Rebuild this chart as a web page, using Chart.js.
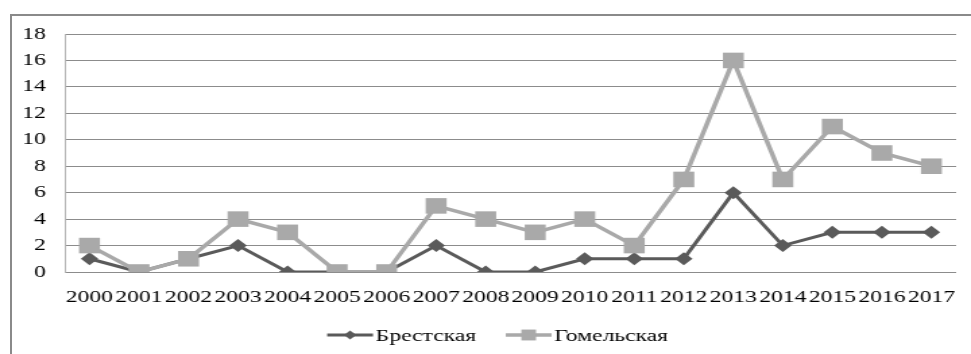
<!DOCTYPE html>
<html>
<head>
<meta charset="utf-8">
<script src="https://cdn.jsdelivr.net/npm/chart.js@4/dist/chart.umd.min.js"></script>
<style>
  html, body { margin: 0; padding: 0; background: #fff; overflow: hidden; }
  #wrap { position: relative; width: 971px; height: 354px; }
  #frame { position: absolute; left: 10px; top: 14px; right: -4px; bottom: -4px;
           border-left: 2px solid #8a8a8a; border-top: 2px solid #8a8a8a; }
  /* the chart is laid out narrow and widened, which gives the wide serif type */
  #stage { position: absolute; left: 0; top: 0; width: 720px; height: 354px;
           transform: scaleX(1.3486); transform-origin: 0 0; }
  canvas { display: block; }
</style>
</head>
<body>
<div id="wrap">
  <div id="frame"></div>
  <div id="stage"><canvas id="c" width="720" height="354"></canvas></div>
</div>
<script>
const years = ['2000','2001','2002','2003','2004','2005','2006','2007','2008',
               '2009','2010','2011','2012','2013','2014','2015','2016','2017'];
const brestValues = [1, 0, 1, 2, 0, 0, 0, 2, 0, 0, 1, 1, 1, 6, 2, 3, 3, 3];
const gomelValues = [2, 0, 1, 4, 3, 0, 0, 5, 4, 3, 4, 2, 7, 16, 7, 11, 9, 8];
const seriesNames = ['Брестская', 'Гомельская'];
const yTicks = { min: 0, max: 18, step: 2 };

const FONT_FAMILY = '"Liberation Serif", "Times New Roman", serif';
const FONT_SIZE = 17.5;
const GRID = '#8c8c8c';

// Legend drawn as line + marker, centred under the plot
const lineLegend = {
  id: 'lineLegend',
  afterDraw(chart) {
    const ctx = chart.ctx;
    const y = 335;
    const lineLen = 34, textGap = 2, itemGap = 22, centre = 369;
    ctx.save();
    ctx.font = FONT_SIZE + 'px ' + FONT_FAMILY;
    const items = chart.data.datasets.map(ds => ({ ds, w: ctx.measureText(ds.label).width }));
    const total = items.reduce((s, it) => s + lineLen + textGap + it.w, 0) + itemGap * (items.length - 1);
    let x = centre - total / 2;
    items.forEach(({ ds, w }) => {
      ctx.strokeStyle = ds.borderColor;
      ctx.lineWidth = ds.borderWidth;
      ctx.beginPath();
      ctx.moveTo(x, y);
      ctx.lineTo(x + lineLen, y);
      ctx.stroke();
      ctx.fillStyle = ds.pointBackgroundColor;
      ctx.strokeStyle = ds.pointBackgroundColor;
      Chart.helpers.drawPoint(ctx, {
        pointStyle: ds.pointStyle,
        radius: ds.pointRadius * 0.7,
        rotation: 0,
        borderWidth: 0
      }, x + lineLen / 2, y);
      ctx.fillStyle = '#000';
      ctx.textBaseline = 'middle';
      ctx.textAlign = 'left';
      ctx.fillText(ds.label, x + lineLen + textGap, y + 1);
      x += lineLen + textGap + w + itemGap;
    });
    ctx.restore();
  }
};

new Chart(document.getElementById('c'), {
  type: 'line',
  data: {
    labels: years,
    datasets: [
      {
        label: seriesNames[0],
        data: brestValues,
        borderColor: '#5a5a5a',
        backgroundColor: '#5a5a5a',
        pointBackgroundColor: '#5a5a5a',
        pointBorderColor: '#5a5a5a',
        borderWidth: 3,
        pointStyle: 'rectRot',
        pointRadius: 6.5,
        pointBorderWidth: 0,
        tension: 0,
        order: 1
      },
      {
        label: seriesNames[1],
        data: gomelValues,
        borderColor: '#a9a9a9',
        backgroundColor: '#a9a9a9',
        pointBackgroundColor: '#a9a9a9',
        pointBorderColor: '#a9a9a9',
        borderWidth: 3.5,
        pointStyle: 'rect',
        pointRadius: 11,
        pointBorderWidth: 0,
        tension: 0,
        order: 0
      }
    ]
  },
  options: {
    responsive: false,
    animation: false,
    events: [],
    layout: { padding: { left: 0, top: 34, right: 10, bottom: 0 } },
    plugins: {
      legend: { display: false },
      tooltip: { enabled: false }
    },
    scales: {
      x: {
        offset: true,
        grid: { display: false },
        border: { display: false },
        ticks: {
          color: '#000',
          font: { family: FONT_FAMILY, size: FONT_SIZE },
          padding: 7,
          maxRotation: 0,
          autoSkip: false
        },
        afterFit(scale) { scale.height = 82; }
      },
      y: {
        min: yTicks.min,
        max: yTicks.max,
        grid: { color: GRID, lineWidth: 1, drawTicks: false },
        border: { display: true, color: '#b4b4b4', width: 1 },
        ticks: {
          stepSize: yTicks.step,
          color: '#000',
          font: { family: FONT_FAMILY, size: FONT_SIZE },
          padding: 14
        },
        afterFit(scale) { scale.width = 48; }
      }
    }
  },
  plugins: [lineLegend]
});
</script>
</body>
</html>
